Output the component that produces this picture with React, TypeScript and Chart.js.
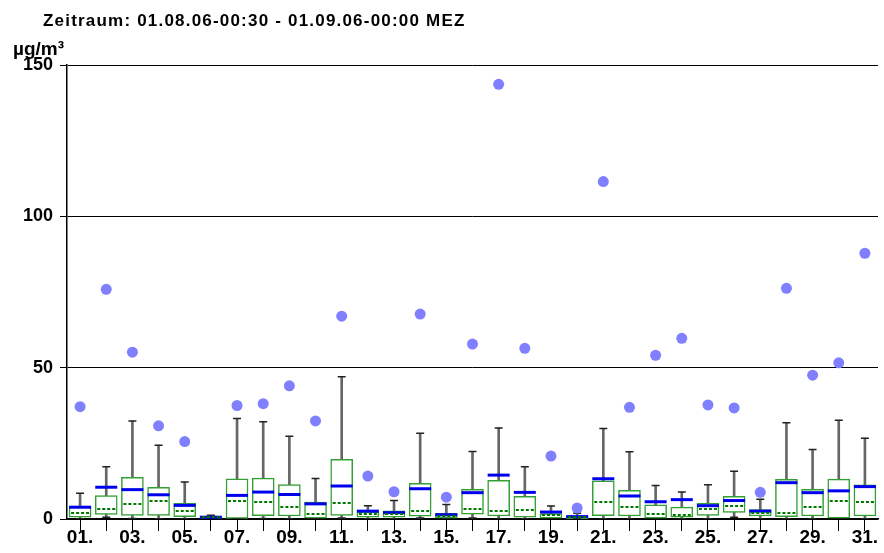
import React, { useEffect, useRef } from 'react';
import { Chart, registerables } from 'chart.js';
Chart.register(...registerables);

const dayLabels = ['01.', '02.', '03.', '04.', '05.', '06.', '07.', '08.', '09.', '10.', '11.', '12.', '13.', '14.', '15.', '16.', '17.', '18.', '19.', '20.', '21.', '22.', '23.', '24.', '25.', '26.', '27.', '28.', '29.', '30.', '31.'];

const maxValues = [37.1, 75.9, 55.1, 30.8, 25.6, null, 37.5, 38.1, 44.0, 32.4, 67.0, 14.2, 9.0, 67.7, 7.2, 57.8, 143.6, 56.4, 20.8, 3.6, 111.5, 36.9, 54.1, 59.7, 37.7, 36.7, 8.8, 76.2, 47.5, 51.6, 87.8];
const whiskerHigh = [8.5, 17.3, 32.4, 24.4, 12.2, 1.2, 33.2, 32.1, 27.3, 13.4, 47.0, 4.4, 6.1, 28.3, 4.8, 22.3, 30.1, 17.3, 4.3, 1.9, 29.9, 22.2, 11.1, 8.9, 11.3, 15.8, 6.5, 31.8, 23.0, 32.6, 26.7];
const q3Values = [3.9, 7.7, 13.8, 10.5, 5.2, 0.8, 13.3, 13.5, 11.4, 5.6, 19.7, 2.4, 2.7, 11.8, 1.9, 9.8, 12.8, 7.5, 1.8, 0.9, 12.6, 9.5, 4.7, 3.9, 5.2, 7.5, 3.1, 13.1, 9.8, 13.2, 11.3];
const meanValues = [3.9, 10.5, 9.7, 8.0, 4.5, 0.6, 7.8, 8.9, 8.1, 5.0, 10.9, 2.6, 2.1, 10.0, 1.4, 8.7, 14.5, 8.8, 2.3, 0.8, 13.3, 7.6, 5.7, 6.4, 4.4, 6.1, 2.6, 12.0, 8.7, 9.3, 10.7];
const medianValues = [1.9, 3.2, 5.0, 5.9, 2.6, 0.5, 5.8, 5.6, 4.1, 1.8, 5.2, 1.6, 1.6, 2.5, 1.0, 3.4, 2.7, 3.1, 1.3, 0.5, 5.6, 4.0, 1.5, 1.4, 3.2, 4.4, 2.0, 2.0, 4.1, 6.1, 5.7];
const q1Values = [0.6, 1.5, 1.2, 1.2, 0.8, 0.2, 0.0, 1.1, 1.0, 0.3, 1.2, 0.6, 0.6, 0.9, 0.3, 1.6, 1.0, 0.6, 0.3, 0.1, 1.1, 1.0, 0.3, 0.6, 1.2, 2.2, 1.0, 0.8, 1.0, 0.3, 1.0];
const whiskerLow = [0.1, 0.6, 0.2, 0.1, 0.1, 0.1, 0.0, 0.2, 0.1, 0.1, 0.3, 0.1, 0.1, 0.3, 0.1, 0.3, 0.1, 0.1, 0.1, 0.0, 0.1, 0.1, 0.1, 0.1, 0.1, 0.6, 0.1, 0.1, 0.1, 0.1, 0.1];

const yTicks = [0, 50, 100, 150];
const titleText = 'Zeitraum: 01.08.06-00:30 - 01.09.06-00:00 MEZ';
const unitText = 'µg/m³';

const FONT = '"Liberation Sans", Arial, Helvetica, sans-serif';

export default function App() {
  const ref = useRef<HTMLCanvasElement>(null);

  useEffect(() => {
    document.body.style.margin = '0';
    const medianPlugin = {
      id: 'medianLines',
      afterDatasetsDraw(chart: any) {
        const xs = chart.scales.x;
        const ys = chart.scales.y;
        const ctx = chart.ctx;
        ctx.save();
        ctx.strokeStyle = '#007800';
        ctx.lineWidth = 2;
        ctx.setLineDash([3, 2]);
        medianValues.forEach((m, i) => {
          const x = xs.getPixelForValue(i);
          const y = Math.round(ys.getPixelForValue(m));
          ctx.beginPath();
          ctx.moveTo(x - 9, y);
          ctx.lineTo(x + 9, y);
          ctx.stroke();
        });
        ctx.restore();
      },
    };

    const chart = new Chart(ref.current as HTMLCanvasElement, {
      type: 'bar',
      data: {
        labels: dayLabels,
        datasets: [
          {
            type: 'bar',
            data: whiskerLow.map((lo, i) => [lo, whiskerHigh[i]]) as any,
            backgroundColor: '#666666',
            barThickness: 2,
            grouped: false,
            order: 6,
          } as any,
          {
            type: 'bar',
            data: q1Values.map((lo, i) => [lo, q3Values[i]]) as any,
            backgroundColor: '#ffffff',
            borderColor: '#33a033',
            borderWidth: 1.5,
            borderSkipped: false,
            barThickness: 22,
            grouped: false,
            order: 5,
          } as any,
          {
            type: 'line',
            data: whiskerHigh,
            showLine: false,
            pointStyle: 'line',
            pointRadius: 4,
            pointBorderWidth: 1.5,
            pointBorderColor: '#222222',
            order: 4,
          } as any,
          {
            type: 'line',
            data: whiskerLow,
            showLine: false,
            pointStyle: 'line',
            pointRadius: 4,
            pointBorderWidth: 1.5,
            pointBorderColor: '#222222',
            order: 4,
          } as any,
          {
            type: 'line',
            data: meanValues,
            showLine: false,
            pointStyle: 'line',
            pointRadius: 11,
            pointBorderWidth: 3,
            pointBorderColor: '#0000ee',
            order: 3,
          } as any,
          {
            type: 'line',
            data: maxValues,
            showLine: false,
            pointStyle: 'circle',
            pointRadius: 5.5,
            pointBorderWidth: 0,
            pointBackgroundColor: '#8080ff',
            pointBorderColor: '#8080ff',
            order: 1,
          } as any,
        ],
      },
      options: {
        responsive: false,
        animation: false,
        devicePixelRatio: 1,
        layout: { autoPadding: false, padding: { left: 0, right: 6, top: 65, bottom: 0 } },
        plugins: { legend: { display: false }, tooltip: { enabled: false }, title: { display: false } },
        scales: {
          x: {
            type: 'category',
            offset: true,
            grid: { display: true, drawOnChartArea: false, drawTicks: true, tickLength: 12, color: '#000000', offset: false },
            border: { display: true, color: '#000000', width: 1.5 },
            ticks: {
              autoSkip: false,
              maxRotation: 0,
              minRotation: 0,
              padding: -5,
              color: '#000000',
              font: { family: FONT, size: 19, weight: 'bold' },
              callback: (_v: any, idx: number) => (idx % 2 === 0 ? dayLabels[idx] : ''),
            },
            afterFit: (s: any) => { s.height = 34; s.paddingLeft = 0; s.paddingRight = 0; },
          },
          y: {
            min: 0,
            max: 150,
            afterBuildTicks: (s: any) => { s.ticks = yTicks.map((v) => ({ value: v })); },
            grid: { color: '#000000', lineWidth: 1, drawTicks: true, tickLength: 7 },
            border: { display: true, color: '#000000', width: 1.5 },
            ticks: {
              padding: 7,
              color: '#000000',
              font: { family: FONT, size: 18, weight: 'bold' },
            },
            afterFit: (s: any) => { s.width = 67; },
          },
        },
      },
      plugins: [medianPlugin],
    });
    return () => chart.destroy();
  }, []);

  return (
    <div style={{ position: 'relative', width: 884, height: 553, background: '#ffffff', fontFamily: FONT }}>
      <canvas ref={ref} width={884} height={553} style={{ position: 'absolute', left: 0, top: 0, width: 884, height: 553 }} />
      <div style={{ position: 'absolute', left: 43, top: 12, fontSize: 17, fontWeight: 'bold', letterSpacing: '1.2px', lineHeight: 1, whiteSpace: 'nowrap', color: '#000' }}>{titleText}</div>
      <div style={{ position: 'absolute', left: 13, top: 39, fontSize: 19, fontWeight: 'bold', lineHeight: 1, whiteSpace: 'nowrap', color: '#000' }}>{unitText}</div>
    </div>
  );
}
